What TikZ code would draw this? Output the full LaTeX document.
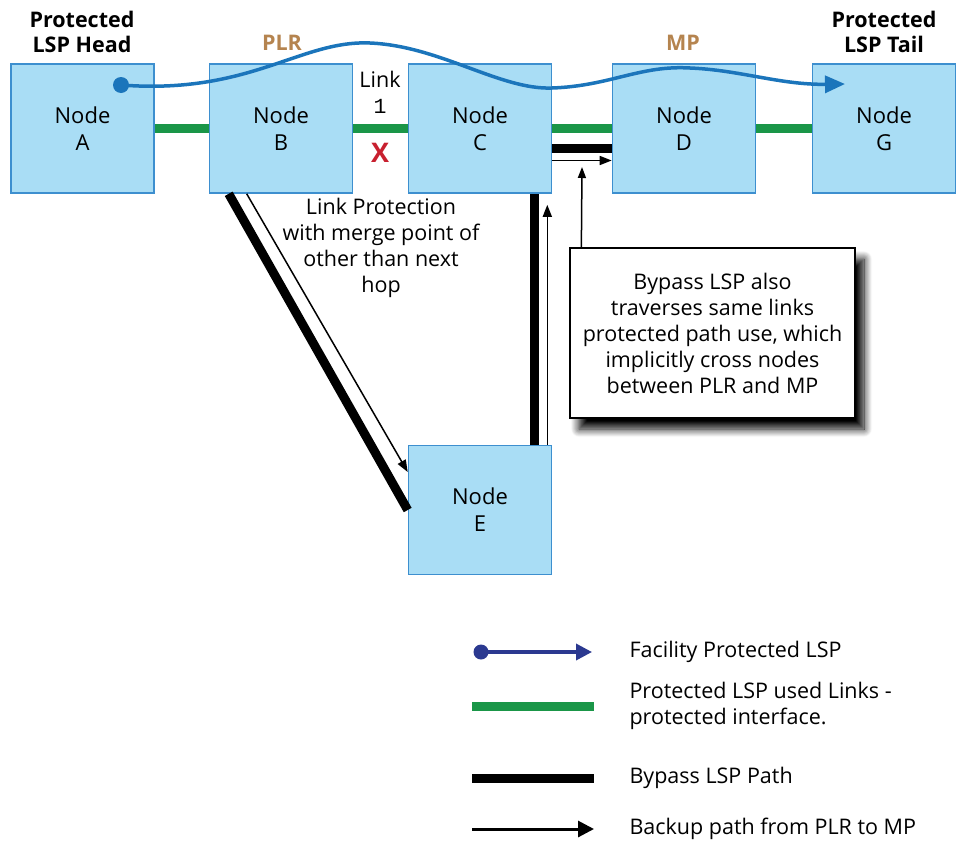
\documentclass[tikz,border=0pt]{standalone}
\usepackage{fontspec}
\setmainfont{Open Sans}
\newfontfamily\digitfont{Liberation Mono}
\usetikzlibrary{arrows.meta, positioning, shadows, shadows.blur, calc}
\definecolor{nodeblue}{HTML}{A9DDF5}
\definecolor{nodeedge}{HTML}{3D8FCF}
\definecolor{lspblue}{HTML}{1B75BB}
\definecolor{legblue}{HTML}{2B3990}
\definecolor{linkgreen}{HTML}{1A9648}
\definecolor{plrbrown}{HTML}{B5844F}
\definecolor{failred}{HTML}{C8202F}

\begin{document}
\begin{tikzpicture}[
  x=1pt, y=-1pt,
  lsrnode/.style={draw=nodeedge, fill=nodeblue, line width=1.6pt, minimum width=143pt, minimum height=129pt,
    align=center, font=\fontsize{22}{27}\selectfont},
  header/.style={align=center, font=\bfseries\fontsize{21.5}{25}\selectfont},
  role/.style={text=plrbrown, font=\bfseries\fontsize{21.5}{23}\selectfont},
  note/.style={align=center, font=\fontsize{21.5}{26}\selectfont},
  protlink/.style={linkgreen, line width=9pt},
  bypass/.style={black, line width=9pt},
  backup/.style={black, line width=1.5pt, -{Triangle[length=12pt, width=9pt]}},
  lsp/.style={lspblue, line width=3.5pt, -{Triangle[length=20pt, width=17pt]}}
]
\useasboundingbox (0,0) rectangle (957,846);

% routers
\node[lsrnode] (A) at (82.5,128.5) {Node\\A};
\node[lsrnode] (B) at (281,128.5) {Node\\B};
\node[lsrnode] (C) at (480,128.5) {Node\\C};
\node[lsrnode] (D) at (684,128.5) {Node\\D};
\node[lsrnode] (G) at (884,128.5) {Node\\G};
\node[lsrnode] (E) at (480,510) {Node\\E};

% labels over the routers
\node[header] (head) at (82,32) {Protected\\LSP Head};
\node[header] (tail) at (884,32) {Protected\\LSP Tail};
\node[role] (plr) at (282,43) {PLR};
\node[role] (mp) at (683,43) {MP};

% protected links
\draw[protlink] (A.east) -- (B.west);
\draw[protlink] (B.east) -- (C.west);
\draw[protlink] (C.east) -- (D.west);
\draw[protlink] (D.east) -- (G.west);

\node[note] (link1) at (380,92) {Link\\{\digitfont 1}};
\node[text=failred, font=\bfseries\fontsize{27}{27}\selectfont] (fail) at (380,153) {X};

% bypass LSP via node E
\draw[bypass] ([xshift=20pt]B.south west) -- (E.west);
\draw[bypass] ([xshift=-18pt]E.north east) -- ([xshift=-18pt]C.south east);
\draw[bypass] ([yshift=-20pt]C.east) -- ([yshift=-20pt]D.west);

% backup path PLR -> MP
\draw[backup] ([xshift=38pt]B.south west) -- ([yshift=38pt]E.west);
\draw[backup] ([xshift=-5pt]E.north east) -- ([xshift=-5pt,yshift=-11pt]C.south east);
\draw[backup] ([yshift=-32pt]C.east) -- ([yshift=-32pt]D.west);

\node[note] (protect) at (381,248) {Link Protection\\with merge point of\\other than next\\hop};

% facility protected LSP
\coordinate (lspstart) at (121,85);
\coordinate (lspend) at (845,84);
\fill[lspblue] (lspstart) circle (8pt);
\draw[lsp] (lspstart) .. controls (250,95) and (300,40) .. (370,43)
  .. controls (440,46) and (500,90) .. (552,88)
  .. controls (610,86) and (640,65) .. (690,68)
  .. controls (740,70) and (780,85) .. (lspend);

% callout
\node[note, draw=black, line width=1.3pt, fill=white, minimum width=285pt, minimum height=170pt,
  blur shadow={shadow xshift=9pt, shadow yshift=-11pt, shadow blur radius=8pt, shadow blur steps=12, shadow opacity=100}]
  (callout) at (712.5,333)
  {Bypass LSP also\\traverses same links\\protected path use, which\\implicitly cross nodes\\between PLR and MP};
\coordinate (pointer) at (582,167);
\draw[black, line width=1.5pt, -{Triangle[length=11pt, width=8pt]}] ([xshift=12pt]callout.north west) -- (pointer);

% legend
\node[note, anchor=west, align=left] (legfac) at (626,652) {Facility Protected LSP};
\node[note, anchor=west, align=left] (leglink) at (626,706) {Protected LSP used Links -\\protected interface.};
\node[note, anchor=west, align=left] (legbyp) at (626,778) {Bypass LSP Path};
\node[note, anchor=west, align=left] (legback) at (626,829) {Backup path from PLR to MP};

\fill[legblue] ([xshift=-145pt]legfac.west) circle (7.5pt);
\draw[legblue, line width=3.5pt, -{Triangle[length=16pt, width=16pt]}] ([xshift=-145pt]legfac.west) -- ([xshift=-34pt]legfac.west);
\draw[protlink] ([xshift=-154pt]leglink.west) -- ([xshift=-32pt]leglink.west);
\draw[bypass] ([xshift=-154pt]legbyp.west) -- ([xshift=-32pt]legbyp.west);
\draw[black, line width=3pt, -{Triangle[length=16pt, width=16pt]}] ([xshift=-154pt]legback.west) -- ([xshift=-32pt]legback.west);
\end{tikzpicture}
\end{document}
